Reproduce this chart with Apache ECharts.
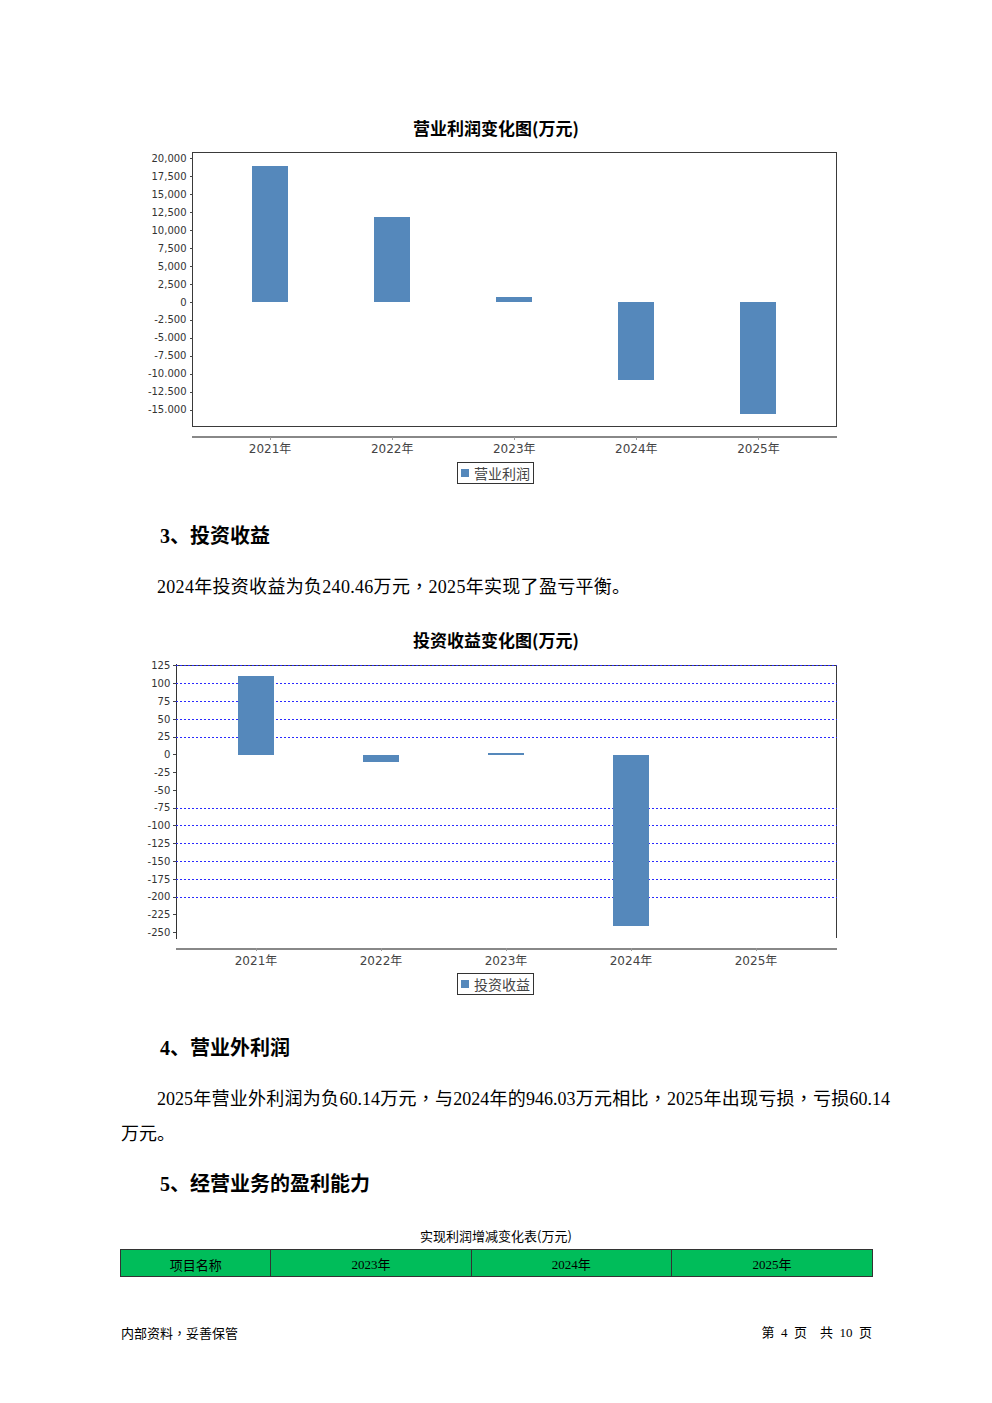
<!DOCTYPE html>
<html>
<head>
<meta charset="utf-8">
<script src="https://cdn.jsdelivr.net/npm/echarts@6.0.0/dist/echarts.min.js"></script>
<style>
html,body{margin:0;padding:0;background:#fff;}
body{width:992px;height:1403px;position:relative;overflow:hidden;font-family:"Liberation Serif","Noto Sans CJK SC",serif;color:#000;}
.abs{position:absolute;white-space:nowrap;}
.h{font-size:20px;font-weight:bold;line-height:24px;left:160px;}
.p{font-size:18px;line-height:24px;}
.cm{font-family:"Noto Sans CJK TC",sans-serif;}
#c1{position:absolute;left:0;top:100px;width:992px;height:400px;}
#c2{position:absolute;left:0;top:610px;width:992px;height:400px;}
#c1 svg path, #c2 svg path{shape-rendering:crispEdges;}
.cap{position:absolute;left:0;width:992px;text-align:center;font-size:13px;line-height:18px;top:1227px;font-family:"Noto Sans CJK SC",sans-serif;}
table.t{position:absolute;left:120px;top:1249px;width:753px;height:28px;border-collapse:collapse;background:#00bd5a;font-size:13px;}
table.t td{border:1px solid #333;text-align:center;padding:3px 0 0 0;line-height:22px;}
.foot{font-size:13px;line-height:18px;top:1324px;}
</style>
</head>
<body>
<div id="c1"></div>

<div class="abs h" style="top:524px;">3、投资收益</div>
<div class="abs p" style="left:157px;top:573px;letter-spacing:0.3px;">2024年投资收益为负240.46万元<span class="cm">，</span>2025年实现了盈亏平衡。</div>

<div id="c2"></div>

<div class="abs h" style="top:1036px;">4、营业外利润</div>
<div class="abs p" style="left:121px;top:1085px;width:769px;text-indent:36px;text-align:justify;text-align-last:justify;">2025年营业外利润为负60.14万元<span class="cm">，</span>与2024年的946.03万元相比<span class="cm">，</span>2025年出现亏损<span class="cm">，</span>亏损60.14</div>
<div class="abs p" style="left:121px;top:1122px;">万元。</div>

<div class="abs h" style="top:1172px;">5、经营业务的盈利能力</div>

<div class="cap">实现利润增减变化表(万元)</div>
<table class="t">
<tr>
<td style="width:150px;font-family:'Noto Sans CJK SC',sans-serif;">项目名称</td>
<td style="width:200px;">2023年</td>
<td style="width:200px;">2024年</td>
<td style="width:201px;">2025年</td>
</tr>
</table>

<div class="abs foot" style="left:121px;font-family:'Noto Sans CJK SC',sans-serif;">内部资料<span class="cm">，</span>妥善保管</div>
<div class="abs foot" style="right:120px;">第&nbsp;&nbsp;4&nbsp;&nbsp;页&nbsp;&nbsp;&nbsp;&nbsp;共&nbsp;&nbsp;10&nbsp;&nbsp;页</div>

<script>
// ---------- data ----------
const years = ['2021年', '2022年', '2023年', '2024年', '2025年'];

const operatingProfit = [18980, 11900, 680, -10830, -15600];
const opTickValues = [20000, 17500, 15000, 12500, 10000, 7500, 5000, 2500, 0, -2500, -5000, -7500, -10000, -12500, -15000];
const opTickLabels = ['20,000', '17,500', '15,000', '12,500', '10,000', '7,500', '5,000', '2,500', '0', '-2.500', '-5.000', '-7.500', '-10.000', '-12.500', '-15.000'];

const investmentIncome = [110, -10.3, 2.8, -240.46, 0];
const invTickValues = [125, 100, 75, 50, 25, 0, -25, -50, -75, -100, -125, -150, -175, -200, -225, -250];
const invTickLabels = ['125', '100', '75', '50', '25', '0', '-25', '-50', '-75', '-100', '-125', '-150', '-175', '-200', '-225', '-250'];
const invGridValues = [125, 100, 75, 50, 25, -75, -100, -125, -150, -175, -200];

// ---------- builder ----------
const BAR_COLOR = '#5588bb';
const LABEL_FONT = '"DejaVu Sans", sans-serif';
const CJK_FONT = '"Noto Sans CJK SC", sans-serif';

function buildOption(cfg) {
  const fmt = v => {
    const i = cfg.tickValues.indexOf(v);
    return i >= 0 ? cfg.tickLabels[i] : '';
  };
  const series = [{
    name: cfg.name, type: 'bar', xAxisIndex: 1, yAxisIndex: 1, z: 5,
    data: cfg.data, barWidth: cfg.barWidth,
    itemStyle: { color: BAR_COLOR, borderWidth: 0 }
  }];
  if (cfg.gridValues) {
    series.push({
      name: 'grid', type: 'line', xAxisIndex: 0, yAxisIndex: 0, z: 1, data: [],
      silent: true,
      markLine: {
        silent: true, symbol: 'none', animation: false, z: 1,
        label: { show: false },
        lineStyle: { color: '#2a2aff', width: 1, type: [2, 2], opacity: 1 },
        emphasis: { disabled: true },
        data: cfg.gridValues.map(v => ({ yAxis: v }))
      }
    });
  }
  return {
    animation: false,
    title: {
      text: cfg.title, left: 'center', top: cfg.titleTop, padding: 0,
      textStyle: { fontSize: 17, fontWeight: 'bold', color: '#000', fontFamily: CJK_FONT, lineHeight: 20 }
    },
    legend: {
      data: [cfg.name], left: 457, top: cfg.legendTop, orient: 'horizontal',
      padding: [3, 4, 3, 4], borderColor: '#333', borderWidth: 1, borderRadius: 0,
      itemWidth: 8, itemHeight: 8, icon: 'rect', itemGap: 5,
      textStyle: { fontSize: 14, color: '#444', fontFamily: CJK_FONT, lineHeight: 15, padding: [0, 0, 0, 0] }
    },
    grid: [
      { left: cfg.boxLeft, top: cfg.top, width: cfg.boxWidth, height: cfg.height,
        show: cfg.fullBorder, borderColor: '#3a3a3a', borderWidth: 1, backgroundColor: 'transparent', containLabel: false },
      { left: cfg.innerLeft, top: cfg.top, width: cfg.innerWidth, height: cfg.height, containLabel: false }
    ],
    xAxis: [
      { type: 'category', gridIndex: 0, data: years, position: 'bottom', offset: 10,
        axisLine: { show: true, onZero: false, lineStyle: { color: '#888', width: 1.5 } },
        axisTick: { show: false }, axisLabel: { show: false }, splitLine: { show: false } },
      { type: 'category', gridIndex: 1, data: years, position: 'bottom', offset: 10,
        axisLine: { show: false, onZero: false },
        axisTick: { show: true, alignWithLabel: true, length: 3, lineStyle: { color: '#999' } },
        axisLabel: { show: true, margin: cfg.xLabelMargin, fontSize: 12, color: '#444', fontFamily: LABEL_FONT + ',' + CJK_FONT },
        splitLine: { show: false } }
    ],
    yAxis: [
      {
        type: 'value', gridIndex: 0, min: cfg.min, max: cfg.max, position: 'left',
        axisLine: { show: cfg.axisLineOnY, onZero: false, lineStyle: { color: '#333', width: 1 } },
        axisTick: { show: true, length: 3, customValues: cfg.tickValues, lineStyle: { color: '#444' } },
        axisLabel: { show: true, customValues: cfg.tickValues, formatter: fmt, margin: 6,
          fontSize: 10, color: '#333', fontFamily: LABEL_FONT },
        splitLine: { show: false }
      },
      {
        type: 'value', gridIndex: 1, min: cfg.min, max: cfg.max, position: 'left',
        axisLine: { show: false }, axisTick: { show: false }, axisLabel: { show: false },
        splitLine: { show: false }
      }
    ],
    graphic: cfg.graphic || [],
    series: series
  };
}

// ---------- chart 1: 营业利润 ----------
const chart1 = echarts.init(document.getElementById('c1'), null, { renderer: 'svg' });
chart1.setOption(buildOption({
  title: '营业利润变化图(万元)', titleTop: 17, name: '营业利润', data: operatingProfit,
  tickValues: opTickValues, tickLabels: opTickLabels,
  min: -17361, max: 20833,
  boxLeft: 192.5, boxWidth: 643.5, top: 52.3, height: 274.5,
  innerLeft: 209, innerWidth: 610.5,
  fullBorder: true, axisLineOnY: false, legendTop: 362, barWidth: 36, xLabelMargin: 6
}));

// ---------- chart 2: 投资收益 ----------
const chart2 = echarts.init(document.getElementById('c2'), null, { renderer: 'svg' });
chart2.setOption(buildOption({
  title: '投资收益变化图(万元)', titleTop: 19, name: '投资收益', data: investmentIncome,
  tickValues: invTickValues, tickLabels: invTickLabels, gridValues: invGridValues,
  min: -258.4, max: 126.4,
  boxLeft: 176.3, boxWidth: 660.2, top: 54.7, height: 273.6,
  innerLeft: 193.5, innerWidth: 625,
  fullBorder: false, axisLineOnY: true, legendTop: 363, barWidth: 36.5, xLabelMargin: 7,
  graphic: [{
    type: 'polyline', silent: true,
    shape: { points: [[176.5, 55], [836.5, 55], [836.5, 328.3]] },
    style: { stroke: '#3a3a3a', lineWidth: 1, fill: null }
  }]
}));
</script>
</body>
</html>
